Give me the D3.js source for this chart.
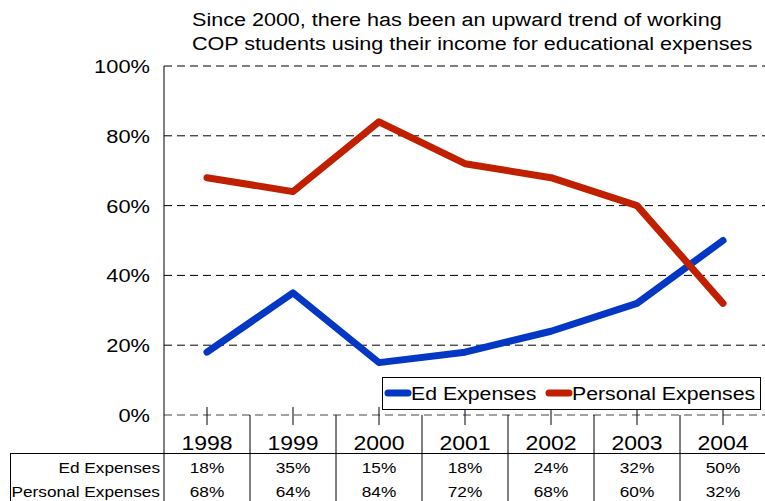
<!DOCTYPE html>
<html><head><meta charset="utf-8">
<script src="https://cdn.jsdelivr.net/npm/d3@7"></script>
<style>body{margin:0;background:#fff}svg{display:block;font-family:"Liberation Sans",Arial,sans-serif}</style>
</head><body>
<svg id="c" width="765" height="501"></svg>
<script>
const years = ["1998","1999","2000","2001","2002","2003","2004"];
const edExpenses = [18,35,15,18,24,32,50];
const personalExpenses = [68,64,84,72,68,60,32];
const yTicks = [0,20,40,60,80,100];
const seriesNames = ["Ed Expenses","Personal Expenses"];
const seriesColors = ["#0438c4","#c02000"];
const titleLines = ["Since 2000, there has been an upward trend of working","COP students using their income for educational expenses"];

const svg = d3.select("#c");
const L = 164, R = 766, T = 66, B = 415;
const x = d3.scaleBand().domain(years).range([L, R]);
const y = d3.scaleLinear().domain([0,100]).range([B, T]);
const cx = d => x(d) + x.bandwidth()/2;

function txt(g, px, py, s, size, anchor, sx) {
  return g.append("text").attr("transform", `translate(${px},${py}) scale(${sx||1.15},1)`)
    .attr("text-anchor", anchor).attr("font-size", size).text(s);
}

// title
const tg = svg.append("g");
titleLines.forEach((t,i)=>txt(tg, 192, 26 + i*24, t, 19, "start", 1.135));

// gridlines
svg.append("g").selectAll("line").data(yTicks).join("line")
  .attr("x1", L).attr("x2", 765).attr("y1", d=>y(d)).attr("y2", d=>y(d))
  .attr("stroke", d=>d===0?"#444":"#000").attr("stroke-width",1).attr("stroke-dasharray","8,5");

// y axis labels
const yg = svg.append("g");
yTicks.forEach(d=>txt(yg, 150, y(d)+7, d+"%", 19, "end"));

// y axis line
svg.append("line").attr("x1",L).attr("x2",L).attr("y1",T).attr("y2",501).attr("stroke","#000");

// x ticks at centers
svg.append("g").selectAll("line").data(years).join("line")
  .attr("x1", cx).attr("x2", cx)
  .attr("y1", B-8).attr("y2", B+10).attr("stroke","#000");

// table dividers
const bounds = years.slice(1).map(d=>x(d));
svg.append("g").selectAll("line").data(bounds).join("line")
  .attr("x1", d=>d).attr("x2", d=>d).attr("y1", B).attr("y2", 501).attr("stroke","#000");
svg.append("line").attr("x1",10).attr("x2",765).attr("y1",453.5).attr("y2",453.5).attr("stroke","#000");
svg.append("line").attr("x1",10.5).attr("x2",10.5).attr("y1",453).attr("y2",501).attr("stroke","#000");

// year labels
const xg = svg.append("g");
years.forEach(d=>txt(xg, cx(d), 450, d, 20, "middle"));

// table rows
const rows = [edExpenses, personalExpenses];
const rg = svg.append("g");
rows.forEach((vals, r) => {
  const yy = 473 + r*24;
  txt(rg, 160, yy, seriesNames[r], 15, "end");
  vals.forEach((v,i)=>txt(rg, cx(years[i]), yy, v+"%", 15, "middle"));
});

// lines
const line = d3.line().x((d,i)=>cx(years[i])).y(d=>y(d));
rows.forEach((vals, r) => {
  svg.append("path").attr("d", line(vals)).attr("fill","none").attr("stroke",seriesColors[r])
    .attr("stroke-width",7).attr("stroke-linecap","round").attr("stroke-linejoin","round");
});

// legend
const lg = svg.append("g");
lg.append("rect").attr("x",382.5).attr("y",377.5).attr("width",378).attr("height",32).attr("fill","#fff").attr("stroke","#000");
const sampleX = [[388,408],[549,569]];
const textX = [411, 572];
seriesNames.forEach((n,i)=>{
  lg.append("line").attr("x1",sampleX[i][0]).attr("x2",sampleX[i][1]).attr("y1",393).attr("y2",393)
    .attr("stroke",seriesColors[i]).attr("stroke-width",7).attr("stroke-linecap","round");
  txt(lg, textX[i], 400, n, 19, "start", 1.12);
});
</script>
</body></html>
